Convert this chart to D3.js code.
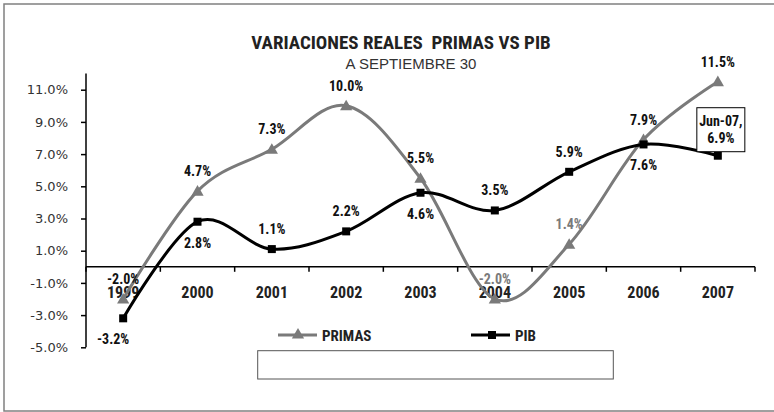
<!DOCTYPE html>
<html><head><meta charset="utf-8">
<script src="https://cdn.jsdelivr.net/npm/d3@7"></script>
<style>
html,body{margin:0;padding:0;background:#fff;}
svg{display:block;}
.narrow{font-family:"Liberation Sans Narrow","Arial Narrow","Roboto Condensed",sans-serif;font-weight:bold;}
</style></head>
<body>
<script>
const years = ["1999","2000","2001","2002","2003","2004","2005","2006","2007"];
const primas = [-2.0, 4.7, 7.3, 10.0, 5.5, -2.0, 1.4, 7.9, 11.5];
const pib = [-3.2, 2.8, 1.1, 2.2, 4.6, 3.5, 5.9, 7.6, 6.9];
const primasLabelGray = [false,false,false,false,false,true,true,false,false];
const pibLabelSide = ["below","below","above","above","below","above","above","below","box"];
const yTicks = [-5, -3, -1, 1, 3, 5, 7, 9, 11];
const title = "VARIACIONES REALES  PRIMAS VS PIB";
const subtitle = "A SEPTIEMBRE 30";
const seriesNames = ["PRIMAS", "PIB"];
const boxLabel = ["Jun-07,", "6.9%"];

const W = 774, H = 412;
const svg = d3.select("body").append("svg").attr("width", W).attr("height", H);

// outer border
svg.append("rect").attr("x", 4).attr("y", 4).attr("width", W + 10).attr("height", 407)
  .attr("fill", "#fff").attr("stroke", "#808080").attr("stroke-width", 1.5);

const x = d3.scaleBand().domain(years).range([86, 755]);
const y = d3.scaleLinear().domain([-5, 12]).range([347.3, 73.6]);
const cx = d => x(d) + x.bandwidth() / 2;
const fmt = v => v.toFixed(1) + "%";

// title
svg.append("text").attr("class", "narrow").attr("x", 401).attr("y", 49)
  .attr("text-anchor", "middle").attr("font-size", 19).attr("fill", "#222")
  .style("white-space", "pre").text(title);
svg.append("text").attr("x", 411).attr("y", 68.5).attr("text-anchor", "middle")
  .attr("font-family", "Liberation Sans, Arial, sans-serif").attr("font-size", 15)
  .attr("fill", "#333").text(subtitle);

// y axis
const yAxis = d3.axisLeft(y).tickValues(yTicks).tickFormat(d => d.toFixed(1) + "%").tickSize(5).tickPadding(13);
const gy = svg.append("g").attr("transform", "translate(86,0)").call(yAxis);
gy.select(".domain").attr("d", `M0,${y(12)}V${y(-5)}`).attr("stroke", "#000").attr("stroke-width", 1.5);
gy.selectAll(".tick line").attr("stroke", "#000").attr("stroke-width", 1.5);
gy.selectAll(".tick text").attr("font-family", "DejaVu Sans, Verdana, sans-serif")
  .attr("font-size", 13).attr("fill", "#333");

// x axis at zero
const xAxis = d3.axisBottom(x).tickSize(0).tickPadding(20);
const gx = svg.append("g").attr("transform", `translate(0,${y(0)})`).call(xAxis);
gx.select(".domain").attr("d", "M86,0H755").attr("stroke", "#000").attr("stroke-width", 1.5);
gx.selectAll(".tick text").attr("class", "narrow").attr("font-size", 16).attr("fill", "#222");
const bounds = years.map(d => x(d)).concat([x.range()[1]]);
gx.selectAll(".bt").data(bounds).enter().append("line")
  .attr("x1", d => d).attr("x2", d => d).attr("y1", 0).attr("y2", 5)
  .attr("stroke", "#000").attr("stroke-width", 1.5);

const line = d3.line().x((d, i) => cx(years[i])).y(d => y(d)).curve(d3.curveCatmullRom.alpha(0));
const gray = "#7a7a7a";

// PRIMAS
svg.append("path").datum(primas).attr("d", line).attr("fill", "none")
  .attr("stroke", gray).attr("stroke-width", 3);
const tri = d3.symbol().type(d3.symbolTriangle).size(65);
svg.selectAll(".tri").data(primas).enter().append("path")
  .attr("d", tri).attr("fill", gray)
  .attr("transform", (d, i) => `translate(${cx(years[i])},${y(d) + 1})`);

// PIB
svg.append("path").datum(pib).attr("d", line).attr("fill", "none")
  .attr("stroke", "#000").attr("stroke-width", 3);
svg.selectAll(".sq").data(pib).enter().append("rect")
  .attr("x", (d, i) => cx(years[i]) - 4).attr("y", d => y(d) - 4)
  .attr("width", 8).attr("height", 8).attr("fill", "#000");

// PRIMAS labels
svg.selectAll(".pl").data(primas).enter().append("text").attr("class", "narrow")
  .attr("x", (d, i) => cx(years[i])).attr("y", (d, i) => y(d) - 15)
  .attr("text-anchor", "middle").attr("font-size", 14)
  .attr("fill", (d, i) => primasLabelGray[i] ? gray : "#111")
  .text(fmt);

// PIB labels
pib.forEach((v, i) => {
  const side = pibLabelSide[i];
  const px = cx(years[i]), py = y(v);
  if (side === "box") {
    svg.append("rect").attr("x", px - 21).attr("y", py - 48).attr("width", 48).attr("height", 44)
      .attr("fill", "#fff").attr("stroke", "#000").attr("stroke-width", 1);
    svg.append("text").attr("class", "narrow").attr("x", px + 3).attr("y", py - 30)
      .attr("text-anchor", "middle").attr("font-size", 14).attr("fill", "#111").text(boxLabel[0]);
    svg.append("text").attr("class", "narrow").attr("x", px + 3).attr("y", py - 13)
      .attr("text-anchor", "middle").attr("font-size", 14).attr("fill", "#111").text(boxLabel[1]);
  } else {
    svg.append("text").attr("class", "narrow")
      .attr("x", px + (i === 0 ? -10 : 0)).attr("y", side === "above" ? py - 15 : py + 26)
      .attr("text-anchor", "middle").attr("font-size", 14).attr("fill", "#111").text(fmt(v));
  }
});

// legend
const lg = svg.append("g");
lg.append("line").attr("x1", 278).attr("x2", 317).attr("y1", 335).attr("y2", 335)
  .attr("stroke", gray).attr("stroke-width", 3);
lg.append("path").attr("d", tri).attr("fill", gray).attr("transform", "translate(298,335)");
lg.append("text").attr("class", "narrow").attr("x", 322).attr("y", 340.5)
  .attr("font-size", 15).attr("fill", "#222").text(seriesNames[0]);
lg.append("line").attr("x1", 471).attr("x2", 510).attr("y1", 335).attr("y2", 335)
  .attr("stroke", "#000").attr("stroke-width", 3);
lg.append("rect").attr("x", 488).attr("y", 331).attr("width", 8).attr("height", 8).attr("fill", "#000");
lg.append("text").attr("class", "narrow").attr("x", 515).attr("y", 340.5)
  .attr("font-size", 15).attr("fill", "#222").text(seriesNames[1]);

// empty box
svg.append("rect").attr("x", 257.7).attr("y", 350.7).attr("width", 355.6).attr("height", 28.3)
  .attr("fill", "#fff").attr("stroke", "#555").attr("stroke-width", 1);
</script>
</body></html>
